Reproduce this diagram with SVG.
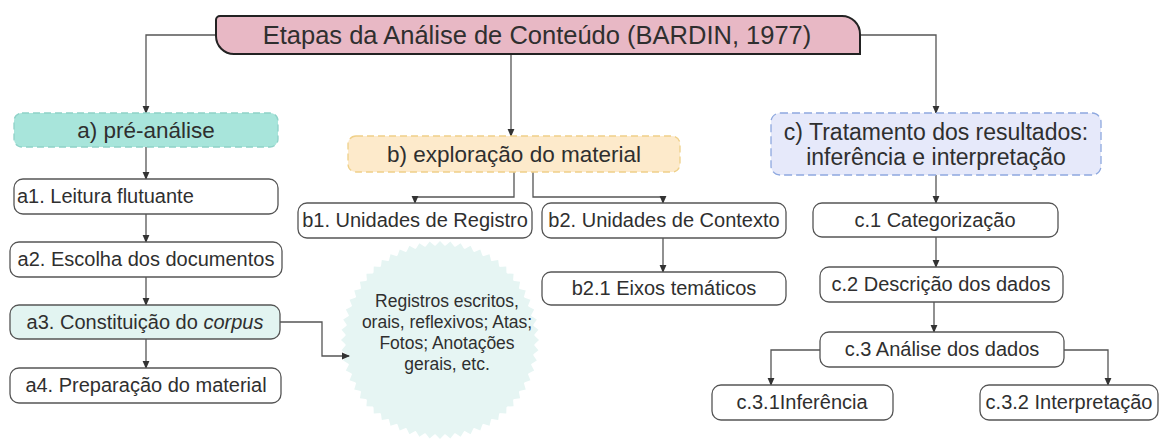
<svg xmlns="http://www.w3.org/2000/svg" xmlns:xlink="http://www.w3.org/1999/xlink" width="1160" height="445" viewBox="0 0 1160 445">
<style>
text{font-family:"Liberation Sans",Arial,sans-serif;fill:#2f2f2f}
.t{font-size:25.5px}
.h{font-size:22.5px}
.hc{font-size:23px}
.n{font-size:20px}
.s{font-size:17.5px}
.box{fill:#fff;stroke:#555;stroke-width:1.3}
.conn path{fill:none;stroke:#555;stroke-width:1.3}
</style>
<defs>
<marker id="arr" viewBox="0 0 8 8" refX="7" refY="4" markerWidth="8" markerHeight="8" markerUnits="userSpaceOnUse" orient="auto">
<path d="M0,0.6 L8,4 L0,7.4 Z" fill="#333"/>
</marker>
<polygon id="sp" points="-5.3,-93.5 0,-99 5.3,-93.5" fill="#e6f5f3"/>
</defs>

<g id="burst">
<circle cx="440" cy="340" r="94.5" fill="#e6f5f3"/>
<use href="#sp" transform="translate(440 340) rotate(0)"/>
<use href="#sp" transform="translate(440 340) rotate(6)"/>
<use href="#sp" transform="translate(440 340) rotate(12)"/>
<use href="#sp" transform="translate(440 340) rotate(18)"/>
<use href="#sp" transform="translate(440 340) rotate(24)"/>
<use href="#sp" transform="translate(440 340) rotate(30)"/>
<use href="#sp" transform="translate(440 340) rotate(36)"/>
<use href="#sp" transform="translate(440 340) rotate(42)"/>
<use href="#sp" transform="translate(440 340) rotate(48)"/>
<use href="#sp" transform="translate(440 340) rotate(54)"/>
<use href="#sp" transform="translate(440 340) rotate(60)"/>
<use href="#sp" transform="translate(440 340) rotate(66)"/>
<use href="#sp" transform="translate(440 340) rotate(72)"/>
<use href="#sp" transform="translate(440 340) rotate(78)"/>
<use href="#sp" transform="translate(440 340) rotate(84)"/>
<use href="#sp" transform="translate(440 340) rotate(90)"/>
<use href="#sp" transform="translate(440 340) rotate(96)"/>
<use href="#sp" transform="translate(440 340) rotate(102)"/>
<use href="#sp" transform="translate(440 340) rotate(108)"/>
<use href="#sp" transform="translate(440 340) rotate(114)"/>
<use href="#sp" transform="translate(440 340) rotate(120)"/>
<use href="#sp" transform="translate(440 340) rotate(126)"/>
<use href="#sp" transform="translate(440 340) rotate(132)"/>
<use href="#sp" transform="translate(440 340) rotate(138)"/>
<use href="#sp" transform="translate(440 340) rotate(144)"/>
<use href="#sp" transform="translate(440 340) rotate(150)"/>
<use href="#sp" transform="translate(440 340) rotate(156)"/>
<use href="#sp" transform="translate(440 340) rotate(162)"/>
<use href="#sp" transform="translate(440 340) rotate(168)"/>
<use href="#sp" transform="translate(440 340) rotate(174)"/>
<use href="#sp" transform="translate(440 340) rotate(180)"/>
<use href="#sp" transform="translate(440 340) rotate(186)"/>
<use href="#sp" transform="translate(440 340) rotate(192)"/>
<use href="#sp" transform="translate(440 340) rotate(198)"/>
<use href="#sp" transform="translate(440 340) rotate(204)"/>
<use href="#sp" transform="translate(440 340) rotate(210)"/>
<use href="#sp" transform="translate(440 340) rotate(216)"/>
<use href="#sp" transform="translate(440 340) rotate(222)"/>
<use href="#sp" transform="translate(440 340) rotate(228)"/>
<use href="#sp" transform="translate(440 340) rotate(234)"/>
<use href="#sp" transform="translate(440 340) rotate(240)"/>
<use href="#sp" transform="translate(440 340) rotate(246)"/>
<use href="#sp" transform="translate(440 340) rotate(252)"/>
<use href="#sp" transform="translate(440 340) rotate(258)"/>
<use href="#sp" transform="translate(440 340) rotate(264)"/>
<use href="#sp" transform="translate(440 340) rotate(270)"/>
<use href="#sp" transform="translate(440 340) rotate(276)"/>
<use href="#sp" transform="translate(440 340) rotate(282)"/>
<use href="#sp" transform="translate(440 340) rotate(288)"/>
<use href="#sp" transform="translate(440 340) rotate(294)"/>
<use href="#sp" transform="translate(440 340) rotate(300)"/>
<use href="#sp" transform="translate(440 340) rotate(306)"/>
<use href="#sp" transform="translate(440 340) rotate(312)"/>
<use href="#sp" transform="translate(440 340) rotate(318)"/>
<use href="#sp" transform="translate(440 340) rotate(324)"/>
<use href="#sp" transform="translate(440 340) rotate(330)"/>
<use href="#sp" transform="translate(440 340) rotate(336)"/>
<use href="#sp" transform="translate(440 340) rotate(342)"/>
<use href="#sp" transform="translate(440 340) rotate(348)"/>
<use href="#sp" transform="translate(440 340) rotate(354)"/>
<text class="s" text-anchor="middle" x="447" y="307">Registros escritos,</text>
<text class="s" text-anchor="middle" x="447" y="328">orais, reflexivos; Atas;</text>
<text class="s" text-anchor="middle" x="447" y="349">Fotos; Anotações</text>
<text class="s" text-anchor="middle" x="447" y="370">gerais, etc.</text>
</g>

<g class="conn" id="connectors">
<path d="M216 35 H146 V113" marker-end="url(#arr)"/>
<path d="M511 54 V136" marker-end="url(#arr)"/>
<path d="M860 35 H936 V113" marker-end="url(#arr)"/>
<path d="M146 147 V179" marker-end="url(#arr)"/>
<path d="M146 214 V242" marker-end="url(#arr)"/>
<path d="M146 277 V305" marker-end="url(#arr)"/>
<path d="M146 339 V368" marker-end="url(#arr)"/>
<path d="M280 322 H322 V356 H349" marker-end="url(#arr)"/>
<path d="M514 172 V197 H415 V203" marker-end="url(#arr)"/>
<path d="M533 172 V197 H663 V203" marker-end="url(#arr)"/>
<path d="M663 238 V272" marker-end="url(#arr)"/>
<path d="M936 175 V203" marker-end="url(#arr)"/>
<path d="M936 237 V267" marker-end="url(#arr)"/>
<path d="M934 302 V332" marker-end="url(#arr)"/>
<path d="M820 350 H771 V385" marker-end="url(#arr)"/>
<path d="M1064 350 H1108 V385" marker-end="url(#arr)"/>
</g>

<g id="title">
<path d="M220 16 H842 A18 18 0 0 1 860 34 V54 H234 A18 18 0 0 1 216 36 V20 A4 4 0 0 1 220 16 Z" fill="#e8b8c5" stroke="#222" stroke-width="2"/>
<text class="t" text-anchor="middle" x="537" y="44">Etapas da Análise de Conteúdo (BARDIN, 1977)</text>
</g>

<g id="a">
<rect x="14" y="113" width="264" height="34" rx="8" fill="#a8e5db" stroke="#8fd2c8" stroke-width="1.3" stroke-dasharray="7 4"/>
<text class="h" text-anchor="middle" x="146" y="138">a) pré-análise</text>
</g>
<g id="a1">
<rect class="box" x="14" y="179" width="264" height="35" rx="9"/>
<text class="n" x="17" y="203">a1. Leitura flutuante</text>
</g>
<g id="a2">
<rect class="box" x="10" y="242" width="272" height="35" rx="9"/>
<text class="n" text-anchor="middle" x="146" y="266">a2. Escolha dos documentos</text>
</g>
<g id="a3">
<rect x="10" y="305" width="270" height="34" rx="9" fill="#e2f4f1" stroke="#555" stroke-width="1.3"/>
<text class="n" text-anchor="middle" x="145" y="329">a3. Constituição do <tspan font-style="italic">corpus</tspan></text>
</g>
<g id="a4">
<rect class="box" x="10" y="368" width="271" height="35" rx="9"/>
<text class="n" text-anchor="middle" x="146" y="392">a4. Preparação do material</text>
</g>

<g id="b">
<rect x="348" y="136" width="332" height="36" rx="8" fill="#fdeacb" stroke="#efd089" stroke-width="1.3" stroke-dasharray="7 4"/>
<text class="h" text-anchor="middle" x="514" y="162">b) exploração do material</text>
</g>
<g id="b1">
<rect class="box" x="298" y="203" width="234" height="35" rx="9"/>
<text class="n" text-anchor="middle" x="415" y="227">b1. Unidades de Registro</text>
</g>
<g id="b2">
<rect class="box" x="542" y="203" width="244" height="35" rx="9"/>
<text class="n" text-anchor="middle" x="664" y="227">b2. Unidades de Contexto</text>
</g>
<g id="b21">
<rect class="box" x="542" y="272" width="244" height="33" rx="9"/>
<text class="n" text-anchor="middle" x="664" y="295">b2.1 Eixos temáticos</text>
</g>

<g id="c">
<rect x="771" y="113" width="330" height="62" rx="9" fill="#e6e9fa" stroke="#8ea8df" stroke-width="1.3" stroke-dasharray="8 4"/>
<text class="hc" text-anchor="middle" x="936" y="140">c) Tratamento dos resultados:</text>
<text class="hc" text-anchor="middle" x="936" y="165">inferência e interpretação</text>
</g>
<g id="c1">
<rect class="box" x="813" y="203" width="245" height="34" rx="9"/>
<text class="n" text-anchor="middle" x="935" y="227">c.1 Categorização</text>
</g>
<g id="c2">
<rect class="box" x="820" y="267" width="243" height="35" rx="9"/>
<text class="n" text-anchor="middle" x="941" y="291">c.2 Descrição dos dados</text>
</g>
<g id="c3">
<rect class="box" x="820" y="332" width="244" height="35" rx="9"/>
<text class="n" text-anchor="middle" x="942" y="356">c.3 Análise dos dados</text>
</g>
<g id="c31">
<rect class="box" x="712" y="385" width="181" height="35" rx="9"/>
<text class="n" text-anchor="middle" x="802" y="409">c.3.1Inferência</text>
</g>
<g id="c32">
<rect class="box" x="980" y="385" width="178" height="35" rx="9"/>
<text class="n" text-anchor="middle" x="1069" y="409">c.3.2 Interpretação</text>
</g>
</svg>
